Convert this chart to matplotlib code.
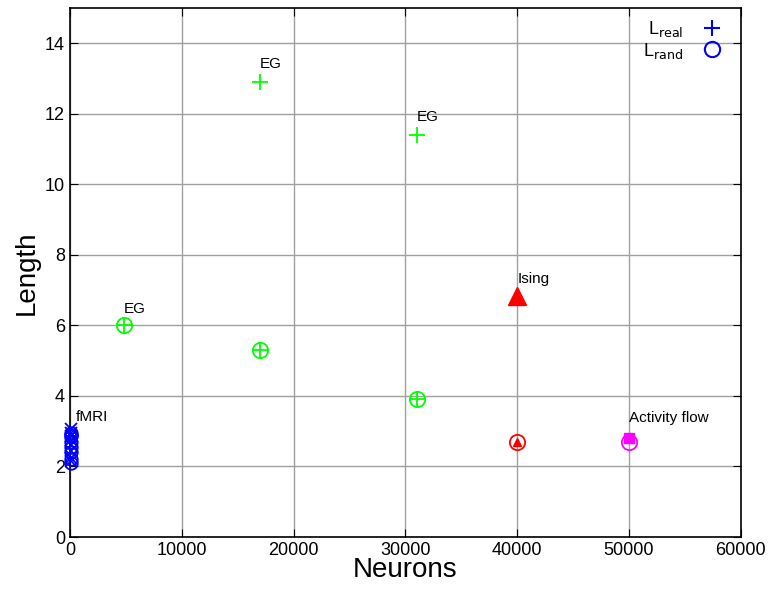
import matplotlib.pyplot as plt

plt.rcParams['font.family'] = ['Liberation Sans', 'DejaVu Sans']

# EG networks
eg_neurons = [4800, 17000, 31000]
eg_real = [6.0, 12.9, 11.4]
eg_rand = [6.0, 5.3, 3.9]
eg_real_small = [5.3, 3.9]  # L_real close to L_rand for these two runs

# Ising model
ising_neurons = [40000, 40000]
ising_real = [6.83, 2.7]
ising_rand = [2.7]

# activity flow
flow_neurons = [50000]
flow_real = [2.82]
flow_rand = [2.7]

# fMRI
fmri_neurons = [90, 90, 90, 90, 90, 90, 90, 90]
fmri_real = [3.05, 2.95, 2.85, 2.75, 2.6, 2.45, 2.25, 2.15]
fmri_rand = [2.95, 2.85, 2.7, 2.55, 2.4, 2.2, 2.1, 2.9]

fig = plt.figure(figsize=(7.74, 5.92), dpi=100)
ax = fig.add_axes([0.0904, 0.0929, 0.8666, 0.8936])

ax.plot(eg_neurons[1:], eg_real[1:], '+', color='#00ff00', ms=11, mew=1.3)
ax.plot([eg_neurons[0]] + eg_neurons[1:], [eg_real[0]] + eg_real_small, '+',
        color='#00ff00', ms=11, mew=1.3)
ax.plot(eg_neurons, eg_rand, 'o', mfc='none', mec='#00ff00', ms=11, mew=1.3)

ax.plot(ising_neurons[:1], ising_real[:1], '^', color='red', ms=13)
ax.plot(ising_neurons[1:], ising_real[1:], '^', color='red', ms=6)
ax.plot(ising_neurons[1:], ising_rand, 'o', mfc='none', mec='red', ms=11, mew=1.3)

ax.plot(flow_neurons, flow_real, 's', color='#ff00ff', ms=7)
ax.plot(flow_neurons, flow_rand, 'o', mfc='none', mec='#ff00ff', ms=11, mew=1.3)

# fMRI sits on the y axis, so let the markers spill over it
ax.plot(fmri_neurons, fmri_real, 'x', color='blue', ms=9, mew=1.3, clip_on=False, zorder=5)
ax.plot(fmri_neurons, fmri_rand, 'o', mfc='none', mec='blue', ms=9, mew=1.3,
        clip_on=False, zorder=5)

# legend entries only
ax.plot([], [], '+', color='blue', ms=12, mew=1.5, label=r'L$_{\rm real}$')
ax.plot([], [], 'o', mfc='none', mec='blue', ms=11, mew=1.5, label=r'L$_{\rm rand}$')

ax.text(17000, 13.3, 'EG', fontsize=11)
ax.text(31000, 11.8, 'EG', fontsize=11)
ax.text(4800, 6.35, 'EG', fontsize=11)
ax.text(40000, 7.2, 'Ising', fontsize=11)
ax.text(50000, 3.25, 'Activity flow', fontsize=11)
ax.text(550, 3.3, 'fMRI', fontsize=11)

ax.set_xlim(0, 60000)
ax.set_ylim(0, 15)
ax.set_xticks(range(0, 60001, 10000))
ax.set_yticks(range(0, 15, 2))
ax.tick_params(direction='in', labelsize=13, top=True, right=True, length=6)
ax.grid(True, color='#a0a0a0', lw=1)
ax.set_axisbelow(True)
for s in ax.spines.values():
    s.set_linewidth(1.2)
ax.set_xlabel('Neurons', fontsize=20, labelpad=-1)
ax.set_ylabel('Length', fontsize=20, labelpad=4)

ax.legend(loc='upper right', frameon=False, markerfirst=False, fontsize=13,
          handletextpad=0.6, borderaxespad=0.2, labelspacing=0.1)

fig.savefig('out.png')
